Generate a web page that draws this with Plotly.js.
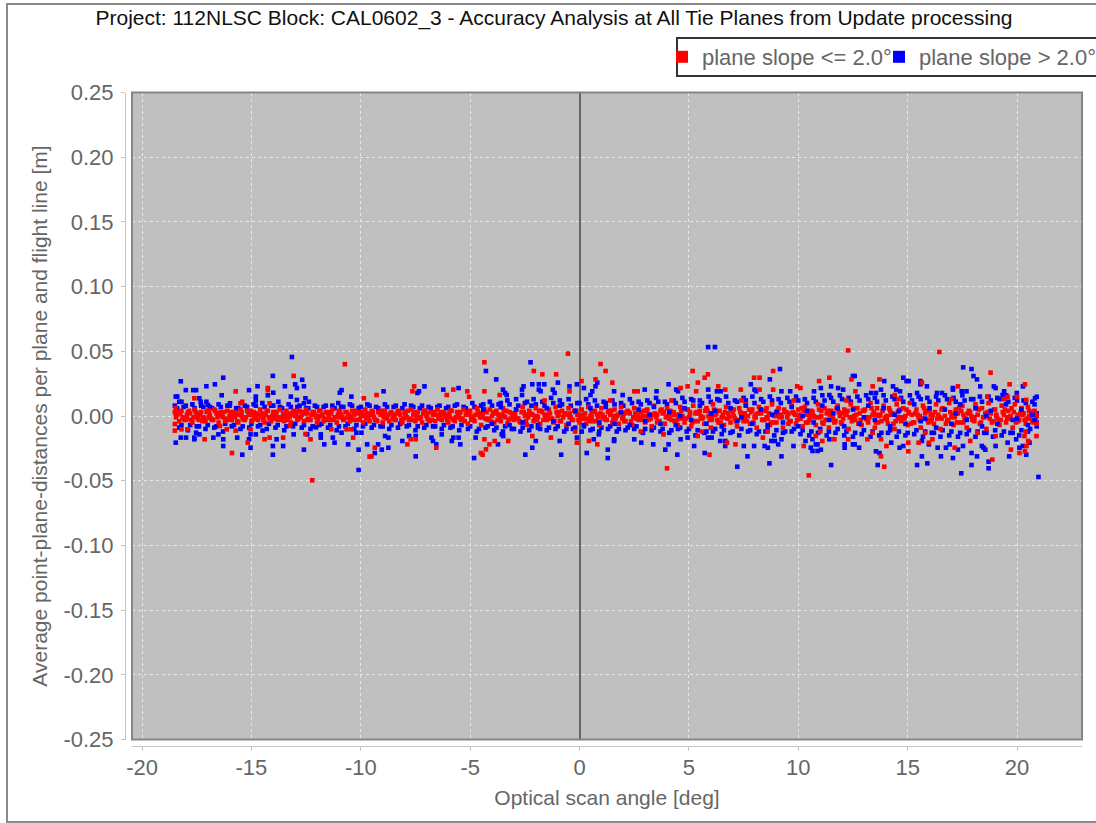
<!DOCTYPE html>
<html><head><meta charset="utf-8">
<script src="https://cdn.plot.ly/plotly-3.0.1.min.js"></script>
<style>
html,body{margin:0;padding:0;background:#fff;overflow:hidden}
#frame{position:absolute;left:6px;top:3px;width:1100px;height:816px;border:2px solid #8a8a8a}
#chart{position:absolute;left:0;top:0;width:1096px;height:823px}
</style></head><body><div id="frame"></div><div id="chart"></div>
<script>
// Flat pairs. Outliers [deg, m] are read one by one from the picture.
// Band lists [deg, mm] are hand estimates: single points cannot be told apart in the dense band.
const blueOutliers=[-13.15,.0456,-18.23,.0268,-18,.02,-17.66,.02,-17.53,.02,-17.06,.023,-16.67,.0245,-16.29,.0296,-16.36,.016,-15.11,.02,-14.72,.023,-14.02,.031,-14,.018,-14.25,.016,-13.47,.023,-13,.0245,-12.92,.0216,-12.68,.028,-12.6,.023,-10.88,.02,-10.96,.018,-13.2,.015,-14.8,.015,-14.8,.012,-13.77,.011,-10.43,.015,-11.03,.01,-18.46,.015,-18.39,.015,-18.3,.011,-18.2,.011,-17.38,.0137,-17.32,.011,-17.06,.011,-16.99,.0085,-15.98,.0098,-12.6,.0098,-12.53,.0137,-12.37,.011,-12.92,.0124,
-18.46,-.0206,-18.23,-.0167,-17.99,-.0167,-17.61,-.0167,-17.61,-.018,-17.53,-.0129,-17.38,-.0142,-16.74,-.0167,-16.51,-.0142,-16.29,-.018,-16.29,-.0232,-15.65,-.0167,-15.42,-.0299,-15.11,-.018,-15.04,-.0142,-14.8,-.0142,-15.04,-.0245,-14.49,-.0113,-13.85,-.018,-14.02,-.0232,-14.02,-.0299,-13.55,-.0232,-13.07,-.0142,-12.6,-.026,-12.45,-.0142,-12.05,-.0088,-11.83,-.0142,-11.83,-.0167,-11.67,-.0219,-11.28,-.0167,-11.2,-.0206,-10.58,-.0219,-10.1,-.026,-10.1,-.0417,-9.71,-.0219,-10.88,-.0129,-10.2,-.0129,-9.97,-.0129,
-2.24,.0415,-4.28,.0348,-3.81,.0283,-7.09,.0229,-7.34,.0191,-7.41,.0178,-8.96,.0191,-6.23,.0204,-5.53,.0216,-3.5,.0204,-3.41,.0178,-3.33,.0162,-2.63,.0204,-2.56,.0229,-2.63,.0162,-2.16,.0245,-1.86,.0245,-1.61,.0245,-1.86,.0204,-1.78,.0191,-.99,.0258,-1.22,.0204,-1.14,.0178,-.46,.0229,-.12,.0245,.81,.0258,.73,.0229,.58,.0191,.2,.0216,.5,.0162,
-9.21,-.0219,-9.36,-.0286,-9.04,-.026,-8.74,-.0245,-8.89,-.0155,-8.74,-.0167,-8.1,-.0193,-7.79,-.0155,-7.49,-.0155,-7.49,-.0312,-6.77,-.0167,-6.7,-.0193,-6.55,-.0219,-6.3,-.0142,-5.84,-.0193,-5.77,-.0167,-5.53,-.0167,-5.45,-.0219,-4.82,-.0325,-4.75,-.0167,-3.73,-.0219,-3.56,-.0142,-3.49,-.0155,-2.48,-.0299,-2.16,-.0245,-2,-.0193,-.84,-.0299,-.91,-.0193,-.12,-.0167,.33,-.0286,.65,-.018,.88,-.0142,1.29,-.026,1.29,-.0325,
5.88,.0533,6.19,.0533,9.16,.0363,8.7,.0283,7.83,.0245,4.07,.0245,2.98,.0204,3.52,.0191,1.97,.0162,1.58,.0191,4.42,.0204,4.5,.0191,5.88,.0204,6.28,.0191,6.45,.0191,8,.0204,8.07,.0191,9.23,.0191,9.63,.0191,11.03,.0216,11.5,.0229,11.82,.0216,12.05,.0204,11.42,.0162,10.72,.0191,
1.58,-.018,1.58,-.0193,2.5,-.018,2.82,-.0206,3.37,-.0219,3.92,-.026,4.07,-.0219,4.47,-.0299,4.62,-.018,4.94,-.0167,5.24,-.0232,5.72,-.0286,5.87,-.0167,6.04,-.0167,6.43,-.0193,6.66,-.0193,6.66,-.0232,7.21,-.0392,7.51,-.0232,7.98,-.0232,7.68,-.0312,8.46,-.0232,8.61,-.0245,8.77,-.0193,8.93,-.0193,9.08,-.0219,9.23,-.018,8.68,-.0366,9.23,-.0312,9.78,-.0232,10.33,-.0193,10.65,-.018,10.57,-.0245,10.65,-.027,10.88,-.027,11.03,-.026,10.88,-.0219,10.8,-.0219,11.5,-.0379,12.12,-.0219,12.12,-.0245,11.42,-.018,
17.54,.0376,17.92,.0363,18.01,.0309,18.17,.0283,12.5,.0309,12.58,.0309,12.78,.0245,14.8,.0296,14.95,.027,15.05,.027,15.58,.027,15.58,.0245,15.88,.0229,13.93,.027,14.33,.0229,17.07,.0216,17.07,.0204,18.32,.0229,18.94,.0229,19.02,.0216,20.27,.0229,17.47,.0191,17.69,.0191,19.41,.0191,19.34,.0162,20.9,.0149,20.82,.0137,13.78,.0204,13.33,.0178,13.55,.0178,14.48,.0204,14.65,.0191,15.43,.0178,16.34,.0178,16.57,.0178,19.99,.0178,
17.45,-.0443,20.98,-.0471,13.63,-.0379,15.43,-.0379,15.9,-.0366,17.92,-.0379,18.7,-.0353,18.7,-.0404,15.65,-.0312,16.52,-.0312,17.07,-.0325,18.17,-.0312,17.92,-.0286,19.64,-.0312,20.42,-.0299,13.55,-.0273,13.71,-.0286,12.5,-.0219,12.58,-.0219,12.78,-.0245,14.63,-.0245,14.8,-.0232,16.37,-.0245,16.75,-.0245,16.92,-.0219,17.3,-.026,17.53,-.0232,18.47,-.0245,18.55,-.026,18.39,-.0232,19.02,-.0232,19.57,-.0206,20.11,-.0245,20.27,-.0232,20.57,-.0206,14.25,-.0206,15.65,-.0193,15.97,-.0219,19.96,-.018];
const blueBandMm=[-18.5,8,-18.3,-9,-18.1,7,-17.9,-11,-17.7,9,-17.5,-8,-17.3,8,-17.1,-10,-16.9,7,-16.7,-9,-16.5,9,-16.3,-12,-16.1,8,-15.9,-8,-15.7,6,-15.5,-10,-15.3,8,-15.1,-9,-14.9,9,-14.7,-8,-14.5,10,-14.3,-10,-14.1,8,-13.9,-9,-13.7,7,-13.5,-11,-13.3,9,-13.1,-8,-12.9,7,-12.7,-9,-12.5,6,-12.3,-10,-12.1,8,-11.9,-7,-11.7,7,-11.5,-9,-11.3,8,-11.1,-11,-10.9,7,-10.7,-8,-10.5,9,-10.3,-10,-10.1,6,-9.9,-8,-9.7,9,-9.5,-9,-9.3,7,-9.1,-8,-8.9,9,-8.7,-10,-8.5,7,-8.3,-9,-8.1,6,-7.9,-8,-7.7,8,-7.5,-11,-7.3,6,-7.1,-9,-6.9,7,-6.7,-8,-6.5,7,-6.3,-10,-6.1,6,-5.9,-9,-5.7,8,-5.5,-11,-5.3,7,-5.1,-10,-4.9,10,-4.7,-12,-4.5,8,-4.3,-9,-4.1,11,-3.9,-11,-3.7,9,-3.5,-12,-3.3,12,-3.1,-10,-2.9,13,-2.7,-12,-2.5,10,-2.3,-11,-2.1,13,-1.9,-9,-1.7,11,-1.5,-11,-1.3,14,-1.1,-10,-.9,12,-.7,-12,-.5,13,-.3,-10,-.1,10,.1,-12,.3,13,.5,-11,.7,12,.9,-12,1.1,11,1.3,-10,1.5,12,1.7,-12,1.9,10,2.1,-11,2.3,13,2.5,-10,2.7,11,2.9,-13,3.1,12,3.3,-11,3.5,14,3.7,-12,3.9,11,4.1,-13,4.3,12,4.5,-10,4.7,14,4.9,-12,5.1,13,5.3,-15,5.5,12,5.7,-13,5.9,15,6.1,-12,6.3,13,6.5,-14,6.7,15,6.9,-13,7.1,12,7.3,-15,7.5,14,7.7,-12,7.9,15,8.1,-14,8.3,13,8.5,-12,8.7,15,8.9,-15,9.1,13,9.3,-13,9.5,14,9.7,-12,9.9,15,10.1,-14,10.3,13,10.5,-15,10.7,14,10.9,-13,11.1,16,11.3,-15,11.5,14,11.7,-13,11.9,16,12.1,-15,12.3,14,12.5,-16,12.7,15,12.9,-14,13.1,16,13.3,-16,13.5,14,13.7,-15,13.9,16,14.1,-13,14.3,15,14.5,-16,14.7,14,14.9,-15,15.1,16,15.3,-14,15.5,15,15.7,-16,15.9,14,16.1,-13,16.3,15,16.5,-16,16.7,16,16.9,-15,17.1,14,17.3,-16,17.5,16,17.7,-14,17.9,13,18.1,-16,18.3,15,18.5,-13,18.7,15,18.9,-16,19.1,14,19.3,-15,19.5,16,19.7,-13,19.9,14,20.1,-15,20.3,12,20.5,-12,20.7,11,20.9,-8,
-18.4,6,-18.2,-7,-18,8,-17.8,-7,-17.6,6,-17.4,-8,-17.2,7,-17,-7,-16.8,6,-16.6,-8,-16.4,7,-16.2,-6,-16,8,-15.8,-7,-15.6,6,-15.4,-8,-15.2,7,-15,-6,-14.8,8,-14.6,-7,-14.4,7,-14.2,-6,-14,8,-13.8,-7,-13.6,6,-13.4,-8,-13.2,7,-13,-6,-12.8,8,-12.6,-7,-12.4,6,-12.2,-8,-12,7,-11.8,-6,-11.6,8,-11.4,-7,-11.2,6,-11,-8,-10.8,7,-10.6,-6,-10.4,8,-10.2,-7,-10,7,-9.8,-6,-9.6,8,-9.4,-7,-9.2,6,-9,-8,-8.8,7,-8.6,-7,-8.4,8,-8.2,-6,-8,9,-7.8,-7,-7.6,7,-7.4,-8,-7.2,8,-7,-7,-6.8,6,-6.6,-8,-6.4,8,-6.2,-7,-6,7,-5.8,-8,-5.6,9,-5.4,-7,-5.2,6,-5,-8,-4.8,7,-4.6,-10,-4.4,9,-4.2,-8,-4,8,-3.8,-9,-3.6,10,-3.4,-8,-3.2,9,-3,-10,-2.8,8,-2.6,-9,-2.4,11,-2.2,-8,-2,9,-1.8,-10,-1.6,8,-1.4,-9,-1.2,10,-1,-8,-.8,9,-.6,-10,-.4,8,-.2,-9,0,10,.2,-8,.4,9,.6,-10,.8,8,1,-9,1.2,10,1.4,-8,1.6,9,1.8,-10,2,8,2.2,-9,2.4,10,2.6,-8,2.8,9,3,-10,3.2,10,3.4,-9,3.6,11,3.8,-10,4,9,4.2,-11,4.4,10,4.6,-9,4.8,11,5,-10,5.2,12,5.4,-11,5.6,10,5.8,-12,6,11,6.2,-10,6.4,12,6.6,-11,6.8,10,7,-12,7.2,11,7.4,-10,7.6,12,7.8,-11,8,10,8.2,-12,8.4,11,8.6,-10,8.8,12,9,-11,9.2,10,9.4,-12,9.6,11,9.8,-10,10,12,10.2,-11,10.4,10,10.6,-12,10.8,11,11,-10,11.2,12,11.4,-12,11.6,11,11.8,-10,12,13,12.2,-12,12.4,11,12.6,-13,12.8,12,13,-11,13.2,13,13.4,-12,13.6,11,13.8,-13,14,12,14.2,-11,14.4,13,14.6,-12,14.8,11,15,-13,15.2,12,15.4,-11,15.6,13,15.8,-12,16,11,16.2,-13,16.4,12,16.6,-11,16.8,13,17,-12,17.2,11,17.4,-13,17.6,12,17.8,-11,18,13,18.2,-12,18.4,11,18.6,-13,18.8,12,19,-11,19.2,13,19.4,-12,19.6,11,19.8,-13,20,12,20.2,-11,20.4,10,20.6,-10,20.8,9,20.9,-5,20.9,2];
const blueTopMm=[-4.4,5,-4,-6,-3.6,7,-3.2,-7,-2.9,5,-2.6,-5,-2.2,8,-1.9,-7,-1.5,6,-1.2,-4,-.9,8,-.5,-6,-.2,4,.2,-7,.5,6,.9,-5,1.2,7,1.6,-6,1.9,3,2.3,-7,2.7,5,3,-4,3.4,7,3.7,-6,4.1,3,4.4,-7,4.8,6,5.1,-3,5.5,8,5.8,-6,6.2,4,6.5,-8,6.9,6,7.2,-4,7.6,8,7.9,-6,8.3,5,8.6,-7,9,3,9.3,-5,9.7,7,10,-8,10.4,4,10.7,-5,11.1,8,11.4,-3,11.8,6,12.1,-8,12.5,5,12.8,-6,13.2,8,13.5,-3,13.9,6,14.2,-8,14.6,4,14.9,-6,15.3,9,15.6,-4,16,6,16.3,-9,16.7,5,17,-6,17.4,9,17.7,-3,18.1,6,18.4,-8,18.8,4,19.1,-6,19.5,9,19.8,-3,20.2,5,20.5,-7,20.8,-3,
3.2,1,4.6,0,6,2,7.4,-1,8.8,1,10.2,0,11.6,2,13,-1,14.4,1,15.8,-2,17.2,2,18.6,0,20,-2,20.7,1];
const redOutliers=[-10.73,.04,-13.07,.031,-15.72,.019,-14.25,.0216,-14.25,.02,-17.61,.0137,-15.42,.011,-15.5,.0098,-14.17,.0098,-18.46,.006,-9.86,.0137,-18.5,-.0062,-18.5,-.0113,-18.2,-.0103,-17.93,-.0103,-17.14,-.018,-16.44,-.0077,-16.13,-.0103,-15.72,-.0113,-15.17,-.0206,-15.89,-.0286,-15.04,-.0103,-14.4,-.018,-14.17,-.0167,-13.55,-.0167,-13.23,-.0075,-12.53,-.0139,-12.3,-.018,-12.22,-.0497,-11.35,-.0103,-10.65,-.0103,-10.43,-.0103,-10.35,-.0167,-9.6,-.0314,
-.53,.0482,-4.35,.0415,.96,.0402,-2.09,.0348,-1.7,.0322,-1.07,.0322,1.19,.0348,.09,.027,.73,.0283,-7.56,.0229,-7.64,.0191,-9.28,.0162,-5.77,.0204,-6.07,.0162,-5.13,.0191,-5.05,.0149,-4.35,.0191,-.46,.0191,-3.65,.0162,-9.51,-.0312,-9.36,-.0245,-7.87,-.0219,-7.72,-.018,-7.49,-.018,-6.55,-.0245,-4.51,-.0286,-4.43,-.0299,-4.28,-.0258,-4.12,-.0219,-3.88,-.0193,-4.35,-.018,-3.26,-.0193,-2.16,-.0155,-1.31,-.0167,-.12,-.0206,.43,-.0193,.81,-.0219,
12.28,.0507,5.17,.0348,5.87,.0322,5.72,.0296,8.85,.0348,7.98,.0296,8.23,.0296,11.42,.0296,10.95,.027,1.5,.0258,4.94,.0229,5.41,.0258,4.62,.0216,6.34,.0229,9.95,.0229,10.1,.0216,2.5,.0191,2.66,.0191,6.66,.0204,7.37,.0204,8.23,.0204,8.85,.0204,5.33,.0191,4,-.0404,5.94,-.0299,6.74,-.0206,7.13,-.0219,10.48,-.0459,10.25,-.0232,8.38,-.0167,3.84,-.0142,5.4,-.0155,10.8,-.0155,11.1,-.0193,11.65,-.018,12.28,-.018,
16.45,.0495,18.79,.0335,13.71,.0283,12.43,.0283,13.4,.0229,17.3,.0229,19.66,.0245,20.36,.0245,15.65,.0258,12.61,.0191,14.41,.0162,18.64,.0149,19.57,.0149,20,.0149,20.42,.0124,13.78,-.0312,13.93,-.0392,18.87,-.0337,15.03,-.0273,19.72,-.026,20.11,-.0286,20.36,-.0273,17.15,-.0245,20.51,-.0193,20.43,-.0232,20.89,-.0155,20.34,-.0155,14.03,-.0232,13.16,-.018,13.78,-.018,15.03,-.0206,15.5,-.0206,15.97,-.0206,16.13,-.018,17.86,-.0193,19.02,-.0155];
const redBandMm=[-18.4,1,-18.1,-2,-17.8,2,-17.5,0,-17.2,-1,-16.9,1,-16.6,2,-16.3,-1,-16,0,-15.7,2,-15.4,-2,-15.1,1,-14.8,0,-14.5,2,-14.2,-1,-13.9,1,-13.6,-1,-13.3,2,-13,0,-12.7,1,-12.4,-2,-12.1,1,-11.8,0,-11.5,2,-11.2,-1,-10.9,1,-10.6,-1,-10.3,1,-10,0,-9.7,2,-9.4,-1,-9.1,1,-8.8,-2,-8.5,0,-8.2,1,-7.9,-1,-7.6,1,-7.3,-2,-7,0,-6.7,1,-6.4,-1,-6.1,1,-5.8,-2,-5.5,0,-5.2,1,-4.9,-1,-4.6,2,-4.3,-2,-4,0,-3.7,1,-3.4,-1,-3.1,2,-2.8,-2,-2.5,0,-2.2,1,-1.9,-1,-1.6,1,-1.3,-2,-1,0,-.7,2,-.4,-1,-.1,1,.2,-2,.5,0,.8,1,1.1,-2,1.4,1,1.7,0,2,-1,2.3,2,2.6,-2,2.9,0,3.2,1,3.5,-1,3.8,2,4.1,-2,4.4,1,4.7,0,5,-1,5.3,2,5.6,-2,5.9,0,6.2,1,6.5,-1,6.8,2,7.1,-2,7.4,1,7.7,0,8,-1,8.3,2,8.6,-2,8.9,0,9.2,1,9.5,-1,9.8,2,10.1,-2,10.4,1,10.7,0,11,-1,11.3,2,11.6,-2,11.9,0,12.2,1,12.5,-1,12.8,2,13.1,-2,13.4,1,13.7,0,14,-1,14.3,2,14.6,-2,14.9,0,15.2,1,15.5,-1,15.8,2,16.1,-2,16.4,1,16.7,0,17,-1,17.3,2,17.6,-2,17.9,0,18.2,1,18.5,-1,18.8,2,19.1,-2,19.4,1,19.7,0,20,-1,20.3,2,20.6,-2,20.9,0,
-18.5,3,-18.2,4,-17.9,3,-17.6,5,-17.3,3,-17,4,-16.7,5,-16.4,3,-16.1,4,-15.8,3,-15.5,5,-15.2,4,-14.9,3,-14.6,5,-14.3,4,-14,3,-13.7,5,-13.4,4,-13.1,3,-12.8,4,-12.5,5,-12.2,3,-11.9,4,-11.6,3,-11.3,5,-11,4,-10.7,3,-10.4,4,-10.1,3,-9.8,5,-9.5,4,-9.2,3,-8.9,4,-8.6,3,-8.3,4,-8,3,-7.7,5,-7.4,3,-7.1,4,-6.8,3,-6.5,5,-6.2,3,-5.9,4,-5.6,3,-5.3,5,-5,4,-4.7,6,-4.4,3,-4.1,5,-3.8,4,-3.5,6,-3.2,3,-2.9,5,-2.6,7,-2.3,4,-2,6,-1.7,3,-1.4,5,-1.1,7,-.8,4,-.5,6,-.2,3,.1,5,.4,7,.7,4,1,6,1.3,3,1.6,5,1.9,7,2.2,4,2.5,6,2.8,3,3.1,5,3.4,8,3.7,4,4,6,4.3,3,4.6,7,4.9,5,5.2,8,5.5,4,5.8,6,6.1,9,6.4,4,6.7,7,7,3,7.3,6,7.6,9,7.9,5,8.2,7,8.5,4,8.8,9,9.1,6,9.4,3,9.7,8,10,5,10.3,7,10.6,4,10.9,9,11.2,6,11.5,4,11.8,8,12.1,5,12.4,9,12.7,6,13,4,13.3,10,13.6,6,13.9,8,14.2,4,14.5,9,14.8,6,15.1,10,15.4,5,15.7,8,16,4,16.3,9,16.6,6,16.9,10,17.2,5,17.5,8,17.8,4,18.1,9,18.4,6,18.7,10,19,5,19.3,8,19.6,4,19.9,9,20.2,6,20.5,7,20.8,4,
-18.3,-4,-18,-3,-17.7,-5,-17.4,-3,-17.1,-4,-16.8,-3,-16.5,-5,-16.2,-4,-15.9,-3,-15.6,-5,-15.3,-3,-15,-4,-14.7,-3,-14.4,-5,-14.1,-4,-13.8,-3,-13.5,-4,-13.2,-5,-12.9,-3,-12.6,-4,-12.3,-3,-12,-5,-11.7,-4,-11.4,-3,-11.1,-5,-10.8,-3,-10.5,-4,-10.2,-3,-9.9,-5,-9.6,-4,-9.3,-3,-9,-5,-8.7,-4,-8.4,-3,-8.1,-5,-7.8,-3,-7.5,-4,-7.2,-5,-6.9,-3,-6.6,-4,-6.3,-3,-6,-5,-5.7,-4,-5.4,-3,-5.1,-6,-4.8,-4,-4.5,-7,-4.2,-3,-3.9,-5,-3.6,-4,-3.3,-6,-3,-3,-2.7,-5,-2.4,-7,-2.1,-4,-1.8,-6,-1.5,-3,-1.2,-5,-.9,-4,-.6,-7,-.3,-3,0,-5,.3,-6,.6,-4,.9,-7,1.2,-3,1.5,-5,1.8,-6,2.1,-4,2.4,-7,2.7,-3,3,-5,3.3,-8,3.6,-4,3.9,-6,4.2,-3,4.5,-7,4.8,-5,5.1,-8,5.4,-4,5.7,-6,6,-9,6.3,-3,6.6,-7,6.9,-5,7.2,-8,7.5,-4,7.8,-6,8.1,-9,8.4,-3,8.7,-7,9,-5,9.3,-9,9.6,-4,9.9,-6,10.2,-8,10.5,-3,10.8,-7,11.1,-5,11.4,-9,11.7,-4,12,-6,12.3,-10,12.6,-3,12.9,-7,13.2,-5,13.5,-9,13.8,-4,14.1,-6,14.4,-10,14.7,-4,15,-7,15.3,-5,15.6,-9,15.9,-3,16.2,-6,16.5,-10,16.8,-4,17.1,-7,17.4,-5,17.7,-9,18,-3,18.3,-6,18.6,-10,18.9,-4,19.2,-7,19.5,-5,19.8,-9,20.1,-3,20.4,-6,20.7,-4,20.9,-6,
-18.45,-1,-18.25,2,-18.05,-3,-17.85,4,-17.65,-1,-17.45,2,-17.25,-4,-17.05,3,-16.85,-2,-16.65,4,-16.45,0,-16.25,3,-16.05,-3,-15.85,1,-15.65,-4,-15.45,3,-15.25,-1,-15.05,4,-14.85,-2,-14.65,1,-14.45,-3,-14.25,4,-14.05,0,-13.85,3,-13.65,-3,-13.45,1,-13.25,-1,-13.05,4,-12.85,-2,-12.65,3,-12.45,-3,-12.25,1,-12.05,-1,-11.85,4,-11.65,-2,-11.45,3,-11.25,-3,-11.05,1,-10.85,-1,-10.65,3,-10.45,-2,-10.25,4,-10.05,-3,-9.85,1,-9.65,-1,-9.45,3,-9.25,-4,-9.05,4,-8.85,-1,-8.65,2,-8.45,-3,-8.25,3,-8.05,-2,-7.85,4,-7.65,-3,-7.45,2,-7.25,-1,-7.05,4,-6.85,-4,-6.65,3,-6.45,-2,-6.25,1,-6.05,-3,-5.85,4,-5.65,-1,-5.45,3,-5.25,-4,-5.05,1,-4.85,-2,-4.65,4,-4.45,-1,-4.25,3,-4.05,-4,-3.85,2,-3.65,-1,-3.45,4,-3.25,-3,-3.05,1,-2.85,-2,-2.65,3,-2.45,-4,-2.25,2,-2.05,-1,-1.85,4,-1.65,-3,-1.45,1,-1.25,-2,-1.05,3,-.85,-4,-.65,2,-.45,-1,-.25,4,-.05,-3,.15,1,.35,-2,.55,3,.75,-4,.95,2,1.15,-1,1.35,4,1.55,-3,1.75,1,1.95,-2,2.15,3,2.35,-4,2.55,2,2.75,-1,2.95,4,3.15,-3,3.35,1,3.55,-5,3.75,5,3.95,-1,4.15,4,4.35,-4,4.55,1,4.75,-2,4.95,5,5.15,-5,5.35,3,5.55,-1,5.75,4,5.95,-3,6.15,5,6.35,-5,6.55,1,6.75,-2,6.95,5,7.15,-4,7.35,3,7.55,-1,7.75,5,7.95,-5,8.15,2,8.35,-3,8.55,6,8.75,-5,8.95,1,9.15,-1,9.35,5,9.55,-6,9.75,3,9.95,-3,10.15,6,10.35,-5,10.55,2,10.75,-1,10.95,5,11.15,-6,11.35,4,11.55,-3,11.75,6,11.95,-5,12.15,2,12.35,-1,12.55,6,12.75,-6,12.95,4,13.15,-3,13.35,6,13.55,-5,13.75,1,13.95,-2,14.15,6,14.35,-6,14.55,3,14.75,-1,14.95,5,15.15,-6,15.35,2,15.55,-3,15.75,6,15.95,-5,16.15,1,16.35,-2,16.55,5,16.75,-6,16.95,3,17.15,-1,17.35,6,17.55,-5,17.75,2,17.95,-3,18.15,6,18.35,-5,18.55,1,18.75,-2,18.95,5,19.15,-6,19.35,3,19.55,-1,19.75,6,19.95,-5,20.15,2,20.35,-3,20.55,4,20.75,-5,20.85,1,
-18.35,3,-18.15,-1,-17.95,1,-17.75,-3,-17.55,3,-17.35,1,-17.15,-2,-16.95,4,-16.75,-3,-16.55,-1,-16.35,2,-16.15,-2,-15.95,3,-15.75,-1,-15.55,1,-15.35,-3,-15.15,3,-14.95,-3,-14.75,2,-14.55,-1,-14.35,1,-14.15,-2,-13.95,3,-13.75,-1,-13.55,2,-13.35,-3,-13.15,1,-12.95,3,-12.75,-1,-12.55,2,-12.35,-3,-12.15,3,-11.95,-2,-11.75,1,-11.55,-3,-11.35,2,-11.15,-1,-10.95,3,-10.75,-2,-10.55,1,-10.35,-3,-10.15,2,-9.95,3,-9.75,-2,-9.55,1,-9.35,-3,-9.15,3,-8.95,-1,-8.75,1,-8.55,-2,-8.35,2,-8.15,-3,-7.95,1,-7.75,-2,-7.55,3,-7.35,-1,-7.15,2,-6.95,-2,-6.75,-3,-6.55,1,-6.35,3,-6.15,-1,-5.95,2,-5.75,-3,-5.55,1,-5.35,-2,-5.15,3,-4.95,-3,-4.75,1,-4.55,-1,-4.35,5,-4.15,-2,-3.95,3,-3.75,-3,-3.55,1,-3.35,4,-3.15,-2,-2.95,2,-2.75,-4,-2.55,3,-2.35,-1,-2.15,1,-1.95,-3,-1.75,4,-1.55,-2,-1.35,2,-1.15,-4,-.95,3,-.75,-1,-.55,1,-.35,-3,-.15,4,.05,-2,.25,2,.45,-4,.65,3,.85,-1,1.05,1,1.25,-3,1.45,4,1.65,-2,1.85,2,2.05,-4,2.25,3,2.45,-1,2.65,1,2.85,-3,3.05,4,3.25,-2,3.45,2,3.65,-4,3.85,3,4.05,-1,4.25,1,4.45,-3,4.65,4,4.85,-2,5.05,3,5.25,-4,5.45,2,5.65,-1,5.85,4,6.05,-3,6.25,2,6.45,-5,6.65,3,6.85,-1,7.05,5,7.25,-3,7.45,2,7.65,-4,7.85,3,8.05,-1,8.25,5,8.45,-3,8.65,2,8.85,-5,9.05,4,9.25,-1,9.45,3,9.65,-4,9.85,1,10.05,-2,10.25,4,10.45,-5,10.65,3,10.85,-1,11.05,4,11.25,-3,11.45,1,11.65,-5,11.85,3,12.05,-2,12.25,4,12.45,-4,12.65,1,12.85,-3,13.05,5,13.25,-1,13.45,3,13.65,-5,13.85,4,14.05,-3,14.25,1,14.45,-4,14.65,5,14.85,-2,15.05,3,15.25,-5,15.45,1,15.65,-2,15.85,4,16.05,-4,16.25,3,16.45,-1,16.65,5,16.85,-3,17.05,1,17.25,-5,17.45,4,17.65,-2,17.85,3,18.05,-4,18.25,5,18.45,-1,18.65,3,18.85,-5,19.05,1,19.25,-3,19.45,5,19.65,-2,19.85,3,20.05,-4,20.25,1,20.45,-2,20.65,3,20.85,-3,
-18.45,2,-17.95,-2,-17.45,-2,-16.95,-1,-16.45,2,-15.95,-1,-15.45,0,-14.95,1,-14.45,0,-13.95,-2,-13.45,-2,-12.95,1,-12.45,2,-11.95,0,-11.45,-1,-10.95,-1,-10.45,0,-9.95,0,-9.45,1,-8.95,2,-8.45,1,-7.95,0,-7.45,-1,-6.95,2,-6.45,0,-5.95,-1,-5.45,-2,-4.95,0,-4.45,1,-3.95,2,-3.45,0,-2.95,-1,-2.45,1,-1.95,0,-1.45,-1,-.95,1,-.45,2,.05,0,.55,-1,1.05,-1,1.55,0,2.05,2,2.55,-1,3.05,0,3.55,1,4.05,0,4.55,-2,5.05,1,5.55,0,6.05,-1,6.55,-1,7.05,0,7.55,2,8.05,1,8.55,-1,9.05,0,9.55,2,10.05,1,10.55,-1,11.05,0,11.55,1,12.05,2,12.55,0,13.05,-1,13.55,1,14.05,0,14.55,-1,15.05,2,15.55,0,16.05,1,16.55,-2,17.05,0,17.55,1,18.05,-1,18.55,2,19.05,0,19.55,-2,20.05,1,20.55,0,
-1.6,12,-.2,-12,1.4,12,2.8,-12,4.2,12,5.6,-12,7.4,12,8.6,-12,9.8,12,11,-12,12.2,12,13.4,-13,14.6,13,15.8,-13,17,13,18.2,-13,19.4,13,20.4,-12];

const xs=a=>a.filter((_,i)=>i%2===0), ys=a=>a.filter((_,i)=>i%2===1);
const mmY=a=>ys(a).map(v=>v/1000);
const xTicks=[-20,-15,-10,-5,0,5,10,15,20];
const yTicks=[-.25,-.2,-.15,-.1,-.05,0,.05,.1,.15,.2,.25];
const yLabels=['-0.25','-0.20','-0.15','-0.10','-0.05','0.00','0.05','0.10','0.15','0.20','0.25'];
const blueMarker={color:'#0000ff',size:4.6,symbol:'square',line:{width:0}};
const traces=[
 {type:'scatter',mode:'markers',name:'plane slope > 2.0°',legendgroup:'b',x:xs(blueBandMm).concat(xs(blueOutliers)),y:mmY(blueBandMm).concat(ys(blueOutliers)),marker:blueMarker},
 {type:'scatter',mode:'markers',name:'plane slope <= 2.0°',x:xs(redBandMm).concat(xs(redOutliers)),y:mmY(redBandMm).concat(ys(redOutliers)),marker:{color:'#ff0000',size:4.6,symbol:'square',line:{width:0}}},
 {type:'scatter',mode:'markers',name:'plane slope > 2.0°',legendgroup:'b',showlegend:false,x:xs(blueTopMm),y:mmY(blueTopMm),marker:blueMarker}
];
const W=992,H=703;
const axisCommon={showline:true,linecolor:'#c4c4c4',linewidth:1,ticks:'outside',ticklen:4,tickwidth:1,tickcolor:'#c4c4c4',
  gridcolor:'#e8e8e8',griddash:'3px,3px',gridwidth:1,tickfont:{family:'Liberation Sans',size:22,color:'#666'},anchor:'free',automargin:false};
Plotly.newPlot('chart',traces,{
 width:1096,height:823,paper_bgcolor:'rgba(0,0,0,0)',plot_bgcolor:'#c0c0c0',
 margin:{l:100,r:4,t:60,b:60,pad:0,autoexpand:false},
 title:{text:'Project: 112NLSC Block: CAL0602_3 - Accuracy Analysis at All Tie Planes from Update processing',
   font:{family:'Liberation Sans',size:21,color:'#111'},x:554/1096,xanchor:'center',xref:'container',y:1-18/823,yanchor:'middle',yref:'container'},
 xaxis:Object.assign({},axisCommon,{domain:[32/W,982/W],range:[-20.46,22.97],position:17/H,tickvals:xTicks,ticktext:xTicks.map(String),ticklabelstandoff:-2,
   zeroline:true,zerolinecolor:'#666',zerolinewidth:2,title:{text:'Optical scan angle [deg]',font:{family:'Liberation Sans',size:21,color:'#666'},standoff:10}}),
 yaxis:Object.assign({},axisCommon,{domain:[23.5/H,670.5/H],range:[-.25,.25],position:25/W,tickvals:yTicks,ticktext:yLabels,ticklabelstandoff:3,
   zeroline:false,title:{text:'Average point-plane-distances per plane and flight line [m]',font:{family:'Liberation Sans',size:21,color:'#666'},standoff:9}}),
 showlegend:true,
 legend:{orientation:'h',traceorder:'reversed',x:562/W,xanchor:'left',y:(763-36)/H,yanchor:'top',bgcolor:'rgba(0,0,0,0)',borderwidth:0,
   font:{family:'Liberation Sans',size:22,color:'#666'},itemsizing:'constant',itemwidth:30,entrywidth:172,entrywidthmode:'pixels'},
 shapes:[
  {type:'rect',xref:'x domain',yref:'y domain',x0:0,x1:1,y0:0,y1:1,line:{color:'#858585',width:2},layer:'above'},
  {type:'rect',xref:'paper',yref:'paper',x0:577/W,x1:1010/W,y0:(763-76)/H,y1:(763-38)/H,fillcolor:'#fff',line:{color:'#333',width:2},layer:'above'}
 ]
},{displayModeBar:false,staticPlot:true});
</script></body></html>
